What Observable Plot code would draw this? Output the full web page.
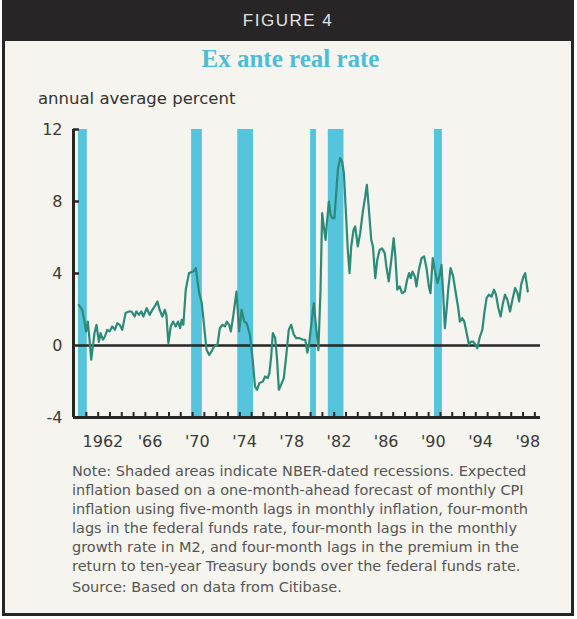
<!DOCTYPE html>
<html><head><meta charset="utf-8">
<script src="https://cdn.jsdelivr.net/npm/d3@7"></script>
<script src="https://cdn.jsdelivr.net/npm/@observablehq/plot@0.6"></script>
<style>
html,body{margin:0;padding:0;background:#fff;}
#page{position:relative;width:577px;height:619px;background:#fff;overflow:hidden;}
#frame{position:absolute;left:2px;top:0;width:572px;height:616px;box-sizing:border-box;border:3px solid #262626;background:#f5f4ef;}
#header{position:absolute;left:2px;top:0;width:572px;height:41px;background:#272525;color:#e4e4e4;font-family:"Liberation Sans",sans-serif;font-size:17px;letter-spacing:1.5px;text-align:center;line-height:42px;}
#title{position:absolute;left:2px;top:45px;width:577px;text-align:center;font-family:"Liberation Serif",serif;font-weight:bold;font-size:25px;color:#4dbcd6;}
#ylabel{position:absolute;left:38px;top:89px;font-family:"DejaVu Sans",sans-serif;font-size:16.5px;color:#333;}
#chart{position:absolute;left:0;top:110px;}
#note{position:absolute;left:72px;top:462px;font-family:"DejaVu Sans",sans-serif;font-size:14.5px;line-height:19px;color:#555;white-space:nowrap;}
</style>
</head><body>
<div id="page">
  <div id="frame"></div>
  <div id="header">FIGURE 4</div>
  <div id="title">Ex ante real rate</div>
  <div id="ylabel">annual average percent</div>
  <div id="chart"></div>
  <div id="note">Note: Shaded areas indicate NBER-dated recessions. Expected<br>inflation based on a one-month-ahead forecast of monthly CPI<br>inflation using five-month lags in monthly inflation, four-month<br>lags in the federal funds rate, four-month lags in the monthly<br>growth rate in M2, and four-month lags in the premium in the<br>return to ten-year Treasury bonds over the federal funds rate.<br><span style="display:inline-block;margin-top:2px">Source: Based on data from Citibase.</span></div>
</div>
<script>
// ---- data ----
const years = [
1960.36,1960.65,1960.84,1960.98,1961.12,1961.27,1961.41,1961.55,1961.69,1961.86,
1962.06,1962.2,1962.4,1962.57,1962.77,1962.97,1963.19,1963.42,1963.62,1963.82,
1964.04,1964.32,1964.61,1964.83,1965.09,1965.23,1965.46,1965.66,1965.83,1966.11,
1966.36,1966.59,1966.79,1967.02,1967.21,1967.44,1967.64,1967.78,1967.95,1968.15,
1968.35,1968.57,1968.77,1968.94,1969.08,1969.22,1969.42,1969.7,1970.07,1970.27,
1970.56,1970.78,1970.98,1971.18,1971.41,1971.6,1971.83,1972.11,1972.31,1972.54,
1972.74,1972.9,1973.1,1973.24,1973.44,1973.72,1973.95,1974.15,1974.38,1974.58,
1974.86,1975.09,1975.29,1975.46,1975.66,1975.95,1976.15,1976.37,1976.51,1976.66,
1976.8,1977.0,1977.16,1977.31,1977.5,1977.73,1977.93,1978.15,1978.35,1978.58,
1978.78,1979.06,1979.35,1979.55,1979.72,1979.86,1980.04,1980.27,1980.46,1980.66,
1980.84,1980.98,1981.12,1981.27,1981.38,1981.55,1981.69,1981.83,1982.02,1982.17,
1982.31,1982.5,1982.67,1982.82,1983.01,1983.15,1983.3,1983.44,1983.64,1983.78,
1984.0,1984.2,1984.43,1984.63,1984.77,1984.94,1985.14,1985.28,1985.48,1985.65,
1985.85,1986.05,1986.28,1986.42,1986.62,1986.84,1987.04,1987.18,1987.35,1987.55,
1987.75,1987.98,1988.18,1988.35,1988.49,1988.63,1988.83,1988.97,1989.17,1989.4,
1989.62,1989.82,1990.02,1990.16,1990.35,1990.52,1990.75,1990.95,1991.09,1991.23,
1991.38,1991.52,1991.66,1991.86,1992.08,1992.28,1992.51,1992.65,1992.85,1993.02,
1993.22,1993.42,1993.59,1993.78,1993.98,1994.12,1994.35,1994.55,1994.72,1994.91,
1995.11,1995.34,1995.54,1995.71,1995.91,1996.1,1996.27,1996.47,1996.67,1996.9,
1997.1,1997.33,1997.53,1997.67,1997.84,1998.04,1998.18,1998.4
];
const realRate = [
2.26,1.98,1.33,0.78,1.33,0.32,-0.79,-0.05,0.69,1.15,
0.2,0.69,0.32,0.5,0.87,0.78,1.06,0.87,1.24,1.15,
0.87,1.8,1.89,1.89,1.61,1.89,1.7,1.89,1.61,2.07,
1.7,1.98,2.17,2.45,1.98,1.61,1.98,1.7,0.13,1.06,
1.33,1.06,1.33,0.96,1.43,1.15,3.1,4.02,4.12,4.3,
2.91,2.36,1.06,-0.24,-0.52,-0.33,-0.05,0.04,0.96,1.15,
1.06,1.33,1.15,0.78,1.61,3.0,0.78,1.98,1.33,1.24,
0.6,-0.79,-2.28,-2.46,-2.09,-2.0,-1.72,-1.81,-1.53,-0.61,
0.69,0.41,-0.79,-2.46,-2.18,-1.81,-0.61,0.87,1.15,0.6,
0.41,0.41,0.32,0.32,-0.4,0.04,1.06,2.36,1.06,-0.26,
3.1,7.36,6.61,5.87,6.8,8.0,7.26,7.08,7.08,8.48,
9.76,10.41,10.22,9.58,7.17,5.31,4.02,5.5,6.43,6.61,
5.5,6.24,7.45,8.28,8.93,7.54,5.87,5.5,3.74,4.76,
5.31,5.4,5.13,4.39,3.56,4.76,5.96,4.95,3.1,3.28,
2.91,3.0,3.65,4.02,3.74,4.11,3.84,3.28,4.2,4.85,
4.95,4.3,3.28,2.91,4.85,4.2,3.47,3.93,4.48,2.91,
0.96,1.98,3.1,4.3,3.84,3.0,2.07,1.33,1.52,1.33,
0.69,0.04,0.22,0.22,0.04,-0.15,0.5,0.87,1.8,2.63,
2.82,2.72,3.1,2.82,2.07,1.61,2.26,2.82,2.54,1.89,
2.54,3.19,2.91,2.45,3.38,3.84,4.02,3.0
];
const recessionStart = [1960.33, 1969.92, 1973.83, 1980.0, 1981.5, 1990.5];
const recessionEnd   = [1961.08, 1970.83, 1975.17, 1980.5, 1982.83, 1991.17];
const yTicks = [-4, 0, 4, 8, 12];
const yTickLabels = ["-4", "0", "4", "8", "12"];
const xLabelYears = [1962, 1966, 1970, 1974, 1978, 1982, 1986, 1990, 1994, 1998];
const xTickLabels = ["1962", "'66", "'70", "'74", "'78", "'82", "'86", "'90", "'94", "'98"];
const tickYears = d3.range(1961, 2000);

// ---- build ----
const series = years.map((t, i) => ({t, v: realRate[i]}));
const recessions = recessionStart.map((s, i) => ({s, e: recessionEnd[i], lo: -4, hi: 12}));
const x0 = 1959.91, x1 = 1999.48;
const axisColor = "#262626";

const chart = Plot.plot({
  width: 577,
  height: 347,
  marginLeft: 73,
  marginRight: 37,
  marginTop: 19,
  marginBottom: 40,
  x: {domain: [x0, x1], axis: null},
  y: {domain: [-4, 12]},
  style: {background: "transparent", fontFamily: "DejaVu Sans", color: "#3a3a3a", overflow: "visible"},
  marks: [
    Plot.rect(recessions, {x1: "s", x2: "e", y1: "lo", y2: "hi", fill: "#57c4de"}),
    Plot.ruleY([0], {stroke: axisColor, strokeWidth: 2.5}),
    Plot.line(series, {x: "t", y: "v", stroke: "#2b8a78", strokeWidth: 2.2, strokeLinejoin: "round"}),
    Plot.ruleX([x0], {y1: -4, y2: 12, stroke: axisColor, strokeWidth: 3}),
    Plot.ruleY([-4], {stroke: axisColor, strokeWidth: 3}),
    Plot.ruleY([4, 8, 12], {x1: x0, x2: x0 + 0.5, stroke: axisColor, strokeWidth: 2.5}),
    Plot.ruleX(tickYears, {y1: -4, y2: -3.72, stroke: axisColor, strokeWidth: 2}),
    Plot.axisY(yTicks, {tickSize: 0, tickPadding: 11, fontSize: 16, tickFormat: d => yTickLabels[yTicks.indexOf(d)]}),
    Plot.text(xLabelYears, {x: d => d + 0.4, y: () => -4, dy: 24, text: d => xTickLabels[xLabelYears.indexOf(d)], fontSize: 16, fill: "#3a3a3a"})
  ]
});
document.getElementById("chart").appendChild(chart);
</script>
</body></html>
